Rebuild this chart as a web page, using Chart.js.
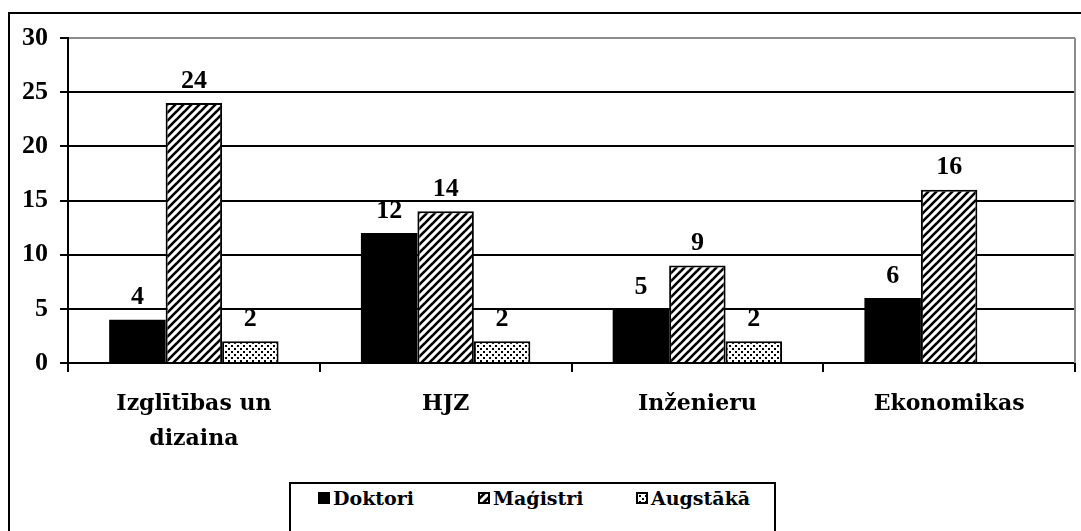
<!DOCTYPE html>
<html>
<head>
<meta charset="utf-8">
<script src="https://cdn.jsdelivr.net/npm/chart.js@4.4.1/dist/chart.umd.min.js"></script>
<style>
  html, body { margin: 0; padding: 0; width: 1081px; height: 531px; overflow: hidden; background: #fff; }
  #wrap { position: relative; width: 1081px; height: 531px; }
  #frame { position: absolute; left: 8px; top: 12px; width: 1200px; height: 600px; border: 2px solid #000; }
  #chart { position: absolute; left: 0; top: 0; }
  #legend { position: absolute; left: 289px; top: 482px; width: 483px; height: 80px; border: 2px solid #000; background: #fff; }
  .item { position: absolute; top: 2px; height: 24px; display: flex; align-items: center;
          font: bold 19px 'DejaVu Serif', serif; color: #000; white-space: nowrap; }
  .item canvas { margin-right: 3px; }
</style>
</head>
<body>
<div id="wrap">
  <div id="frame"></div>
  <canvas id="chart" width="1081" height="531"></canvas>
  <div id="legend"></div>
</div>
<script>
// ===== データ =====
const categories = [['Izglītības un', 'dizaina'], 'HJZ', 'Inženieru', 'Ekonomikas'];
const seriesNames = ['Doktori', 'Maģistri', 'Augstākā'];
const doktori  = [4, 12, 5, 6];
const magistri = [24, 14, 9, 16];
const augstaka = [2, 2, 2, null];
const yTicks = [0, 5, 10, 15, 20, 25, 30];

const NUM_FONT = "'Liberation Serif', serif";
const TXT_FONT = "'DejaVu Serif', serif";

// ===== パターン =====
function hatchPattern(ctx) {
  const c = document.createElement('canvas');
  c.width = 8; c.height = 8;
  const g = c.getContext('2d');
  g.fillStyle = '#fff';
  g.fillRect(0, 0, 8, 8);
  g.strokeStyle = '#000';
  g.lineWidth = 2.6;
  [-8, 0, 8].forEach(ox => {
    g.beginPath();
    g.moveTo(ox - 1, 9);
    g.lineTo(ox + 9, -1);
    g.stroke();
  });
  return ctx.createPattern(c, 'repeat');
}

function dotPattern(ctx) {
  const c = document.createElement('canvas');
  c.width = 6; c.height = 6;
  const g = c.getContext('2d');
  g.fillStyle = '#fff';
  g.fillRect(0, 0, 6, 6);
  g.fillStyle = '#000';
  g.fillRect(0, 0, 2, 2);
  g.fillRect(3, 3, 2, 2);
  return ctx.createPattern(c, 'repeat');
}

const ctx = document.getElementById('chart').getContext('2d');
const fills = ['#000', hatchPattern(ctx), dotPattern(ctx)];

// ===== データラベル =====
const valueLabels = {
  id: 'valueLabels',
  afterDatasetsDraw(chart) {
    const c = chart.ctx;
    c.save();
    c.font = `bold 26px ${NUM_FONT}`;
    c.fillStyle = '#000';
    c.textAlign = 'center';
    c.textBaseline = 'middle';
    chart.data.datasets.forEach((ds, i) => {
      chart.getDatasetMeta(i).data.forEach((bar, j) => {
        const v = ds.data[j];
        if (v === null || v === undefined) return;
        c.fillText(String(v), bar.x, bar.y - 22);
      });
    });
    c.restore();
  }
};

// ===== 右枠線 =====
const plotFrame = {
  id: 'plotFrame',
  afterDraw(chart) {
    const a = chart.chartArea;
    const c = chart.ctx;
    c.save();
    c.strokeStyle = '#8c8c8c';
    c.lineWidth = 2;
    c.beginPath();
    c.moveTo(a.right, a.top);
    c.lineTo(a.right, a.bottom);
    c.stroke();
    c.restore();
  }
};

new Chart(ctx, {
  type: 'bar',
  data: {
    labels: categories,
    datasets: [
      { label: seriesNames[0], data: doktori,  backgroundColor: fills[0], borderColor: '#000', borderWidth: 0 },
      { label: seriesNames[1], data: magistri, backgroundColor: fills[1], borderColor: '#000', borderWidth: 2 },
      { label: seriesNames[2], data: augstaka, backgroundColor: fills[2], borderColor: '#000', borderWidth: 2 },
    ]
  },
  options: {
    responsive: false,
    animation: false,
    datasets: { bar: { categoryPercentage: 0.673, barPercentage: 1 } },
    layout: { padding: { top: 38, right: 6, left: 0, bottom: 68 } },
    plugins: { legend: { display: false }, tooltip: { enabled: false } },
    scales: {
      x: {
        grid: { offset: true, drawOnChartArea: false, color: '#000', lineWidth: 2, tickLength: 9 },
        border: { color: '#000', width: 2 },
        ticks: { color: '#000', font: { family: TXT_FONT, size: 22, weight: 'bold', lineHeight: 1.62 },
                 padding: 14, maxRotation: 0, autoSkip: false },
        afterFit: s => { s.height = 100; }
      },
      y: {
        min: 0, max: 30,
        afterBuildTicks: s => { s.ticks = yTicks.map(v => ({ value: v })); },
        grid: {
          color: c => (c.tick && c.tick.value === 30 ? '#8c8c8c' : '#000'),
          lineWidth: 2, tickLength: 8, tickColor: '#000', tickWidth: 2
        },
        border: { color: '#000', width: 2 },
        ticks: { color: '#000', font: { family: NUM_FONT, size: 26, weight: 'bold' }, padding: 12 },
        afterFit: s => { s.width = 68; }
      }
    }
  },
  plugins: [valueLabels, plotFrame]
});

// ===== 凡例 =====
const legendPos = [27, 187, 345];
const legendEl = document.getElementById('legend');
seriesNames.forEach((name, i) => {
  const item = document.createElement('div');
  item.className = 'item';
  item.style.left = legendPos[i] + 'px';
  const sw = document.createElement('canvas');
  sw.width = 12; sw.height = 12;
  const g = sw.getContext('2d');
  g.fillStyle = i === 0 ? '#000' : (i === 1 ? hatchPattern(g) : dotPattern(g));
  g.fillRect(0, 0, 12, 12);
  g.strokeStyle = '#000';
  g.lineWidth = 2;
  g.strokeRect(1, 1, 10, 10);
  item.appendChild(sw);
  const t = document.createElement('span');
  t.textContent = name;
  item.appendChild(t);
  legendEl.appendChild(item);
});
</script>
</body>
</html>
